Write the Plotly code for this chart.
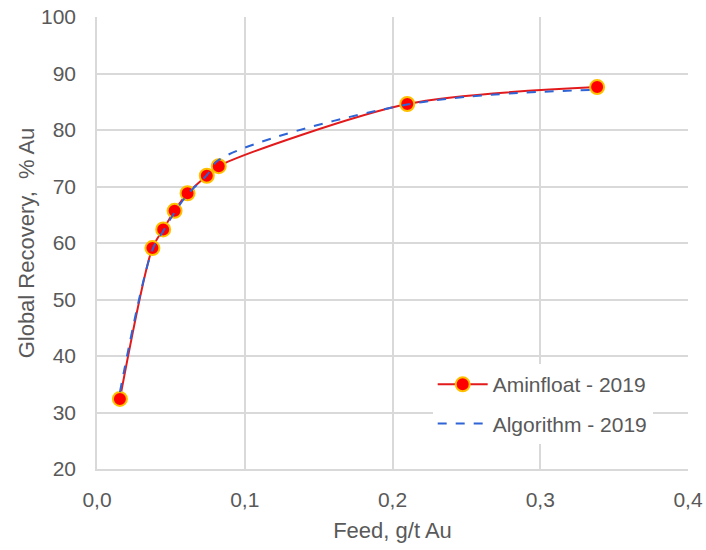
import plotly.graph_objects as go

# Feed grade (g/t Au) and global recovery (% Au)
feed = [0.0155, 0.0375, 0.0448, 0.0525, 0.0613, 0.0743, 0.0824, 0.210, 0.3385]
aminfloat_2019 = [32.4, 59.1, 62.4, 65.7, 68.8, 71.9, 73.6, 84.6, 87.6]
algorithm_2019 = [33.6, 58.8, 62.1, 65.4, 68.6, 72.0, 74.7, 84.5, 87.1]

x_ticks = [0.0, 0.1, 0.2, 0.3, 0.4]
y_ticks = [20, 30, 40, 50, 60, 70, 80, 90, 100]

text_color = "#595959"
grid_color = "#D9D9D9"
font_family = "Liberation Sans, Arial, sans-serif"

fig = go.Figure()

fig.add_trace(go.Scatter(
    x=feed, y=aminfloat_2019,
    mode="lines+markers",
    name="Aminfloat - 2019",
    legendgroup="a",
    line=dict(color="#E31A1C", width=2, shape="spline", smoothing=0.8),
    marker=dict(size=14, color="#FF0000", line=dict(color="#FFC000", width=2)),
))

fig.add_trace(go.Scatter(
    x=feed, y=algorithm_2019,
    mode="lines",
    name="Algorithm - 2019",
    legendgroup="b",
    line=dict(color="#2E64D6", width=2, dash="dash", shape="spline", smoothing=1.0),
))

fig.update_layout(
    width=706, height=550,
    margin=dict(l=97, r=18, t=17, b=81),
    paper_bgcolor="white",
    plot_bgcolor="white",
    separators=",.",
    font=dict(family=font_family, size=21, color=text_color),
    showlegend=True,
    legend=dict(
        x=0.568, y=0.232, xanchor="left", yanchor="top",
        bgcolor="white",
        font=dict(size=21, color=text_color),
        tracegroupgap=9,
        traceorder="grouped",
        itemwidth=50,
    ),
)

fig.update_xaxes(
    range=[0, 0.4],
    tickvals=x_ticks,
    tickformat=".1f",
    automargin=False,
    ticklabeloverflow="allow",
    showgrid=True, gridcolor=grid_color, gridwidth=1.5,
    zeroline=False,
    showline=True, linecolor=grid_color, linewidth=1.5,
    ticks="", ticklen=0,
    ticklabelstandoff=11,
    tickfont=dict(size=21, color=text_color),
    title=dict(text="Feed, g/t Au", font=dict(size=22, color=text_color), standoff=13),
)

fig.update_yaxes(
    range=[20, 100],
    tickvals=y_ticks,
    automargin=False,
    ticklabeloverflow="allow",
    showgrid=True, gridcolor=grid_color, gridwidth=1.5,
    zeroline=False,
    showline=True, linecolor=grid_color, linewidth=1.5,
    ticks="", ticklen=0,
    ticklabelstandoff=15,
    tickfont=dict(size=21, color=text_color),
    title=dict(text="Global Recovery,  % Au", font=dict(size=22, color=text_color), standoff=0),
)

fig.write_html("out.html")
